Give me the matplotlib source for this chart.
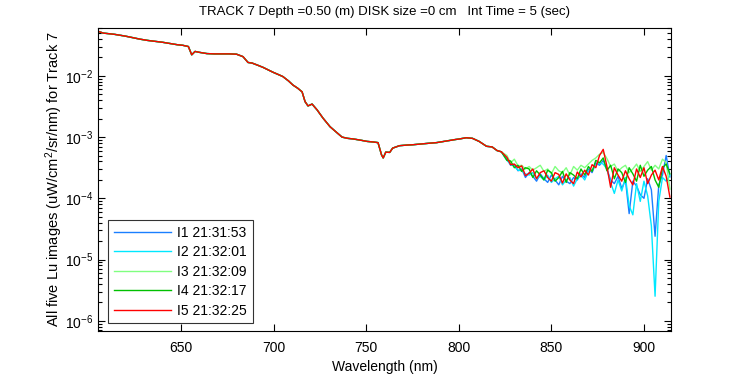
import numpy as np
import matplotlib
matplotlib.use("Agg")
import matplotlib.pyplot as plt
from matplotlib.ticker import LogLocator, NullFormatter, FixedLocator

plt.rcParams['font.family'] = ['Liberation Sans', 'DejaVu Sans']
plt.rcParams['mathtext.fontset'] = 'custom'
plt.rcParams['mathtext.rm'] = 'Liberation Sans'
plt.rcParams['mathtext.it'] = 'Liberation Sans'
plt.rcParams['axes.unicode_minus'] = False

# ---- data (log10 of Lu, uW/cm^2/sr/nm) ----
wl_smooth = [605.2, 608, 611, 614, 617, 620, 624, 628, 632, 636, 640, 644, 648, 651, 654,
             655.8, 657.6, 660, 664, 668, 672, 676, 680, 683.5, 686.2, 688.4, 691, 694.3,
             697, 699.7, 702, 705, 708, 710.5, 713, 715.4, 717, 718.6, 720.8, 723.5, 726.7,
             730.5, 734.3, 737, 740, 743, 747, 750.5, 754, 756.4, 758.3, 759.2, 760.6, 762.7,
             764.3, 768, 772, 775, 780.4, 784, 788, 792, 795, 798, 800.4, 804, 807.4, 811,
             815, 818, 820.7, 823]
log_lu_smooth = [-1.27, -1.30, -1.31, -1.32, -1.335, -1.35, -1.375, -1.40, -1.42, -1.435, -1.45,
                 -1.47, -1.49, -1.50, -1.52, -1.655, -1.60, -1.615, -1.635, -1.64, -1.64, -1.64,
                 -1.645, -1.685, -1.78, -1.79, -1.82, -1.86, -1.90, -1.94, -1.97, -2.01, -2.08,
                 -2.15, -2.20, -2.26, -2.42, -2.49, -2.46, -2.555, -2.69, -2.83, -2.93, -3.00,
                 -3.02, -3.03, -3.05, -3.07, -3.08, -3.09, -3.29, -3.34, -3.245, -3.25, -3.18,
                 -3.14, -3.13, -3.125, -3.11, -3.10, -3.09, -3.07, -3.055, -3.04, -3.03, -3.01,
                 -3.02, -3.07, -3.15, -3.16, -3.22, -3.24]

wl_noisy = [826, 828, 830, 832, 834, 836, 838, 840, 842, 844, 846, 848, 850, 852, 854, 856,
            858, 860, 862, 864, 866, 868, 870, 872, 874, 876, 878, 880, 882, 884, 886, 888,
            890, 892, 894, 896, 898, 900, 902, 904, 906, 908, 910, 912, 914]

log_lu_i1 = [-3.36, -3.46, -3.45, -3.55, -3.52, -3.66, -3.58, -3.64, -3.72, -3.60,
             -3.68, -3.74, -3.62, -3.70, -3.78, -3.64, -3.72, -3.76, -3.66, -3.70,
             -3.60, -3.66, -3.52, -3.58, -3.42, -3.46, -3.38, -3.52, -3.70, -3.76,
             -3.64, -3.84, -3.70, -4.25, -3.72, -3.80, -3.94, -4.00, -3.68, -3.86,
             -4.62, -3.78, -3.62, -3.30, -3.65]
log_lu_i2 = [-3.38, -3.44, -3.48, -3.54, -3.55, -3.60, -3.62, -3.58, -3.68, -3.64,
             -3.70, -3.62, -3.74, -3.68, -3.64, -3.78, -3.70, -3.66, -3.80, -3.68,
             -3.62, -3.70, -3.56, -3.54, -3.46, -3.42, -3.44, -3.52, -3.74, -3.92,
             -3.70, -3.88, -3.66, -4.12, -4.27, -3.76, -4.05, -3.72, -3.96, -4.45,
             -5.60, -4.05, -3.66, -3.72, -3.62]
log_lu_i3 = [-3.30, -3.42, -3.36, -3.47, -3.46, -3.52, -3.48, -3.54, -3.50, -3.46,
             -3.56, -3.52, -3.60, -3.48, -3.55, -3.58, -3.50, -3.62, -3.48, -3.54,
             -3.46, -3.50, -3.44, -3.38, -3.34, -3.28, -3.25, -3.35, -3.48, -3.44,
             -3.56, -3.50, -3.46, -3.58, -3.52, -3.44, -3.56, -3.48, -3.40, -3.54,
             -3.46, -3.52, -3.36, -3.42, -3.85]
log_lu_i4 = [-3.38, -3.39, -3.50, -3.46, -3.56, -3.50, -3.52, -3.66, -3.55, -3.62,
             -3.70, -3.54, -3.58, -3.72, -3.66, -3.56, -3.74, -3.58, -3.62, -3.68,
             -3.52, -3.62, -3.48, -3.56, -3.38, -3.42, -3.34, -3.55, -3.46, -3.68,
             -3.52, -3.58, -3.74, -3.50, -3.60, -3.72, -3.46, -3.64, -3.54, -3.48,
             -3.70, -3.82, -3.50, -3.44, -3.60]
log_lu_i5 = [-3.33, -3.45, -3.44, -3.50, -3.47, -3.63, -3.59, -3.52, -3.68, -3.58,
             -3.55, -3.66, -3.72, -3.58, -3.61, -3.75, -3.60, -3.70, -3.76, -3.57,
             -3.65, -3.54, -3.62, -3.45, -3.50, -3.30, -3.20, -3.48, -3.82, -3.50,
             -3.62, -3.72, -3.55, -3.68, -3.78, -3.52, -3.66, -3.50, -3.76, -3.62,
             -3.54, -3.70, -3.48, -3.64, -3.98]

labels = ['I1 21:31:53', 'I2 21:32:01', 'I3 21:32:09', 'I4 21:32:17', 'I5 21:32:25']
colors = ['#1a7fff', '#00e8ff', '#80ff80', '#00c000', '#ff0000']
x_ticks = [650, 700, 750, 800, 850, 900]

# ---- figure ----
fig = plt.figure(figsize=(7.5, 3.75), dpi=100)
ax = fig.add_axes([98 / 750, 1 - 331 / 375, (671 - 98) / 750, (331 - 28) / 375])

wl = np.array(wl_smooth + wl_noisy)
for series, lab, col in zip([log_lu_i1, log_lu_i2, log_lu_i3, log_lu_i4, log_lu_i5], labels, colors):
    vals = 10.0 ** np.array(log_lu_smooth + series)
    ax.plot(wl, vals, color=col, lw=1.0, label=lab)

ax.set_yscale('log')
ax.set_xlim(605.2, 914.6)
ax.set_ylim(10 ** -6.168, 10 ** -1.217)
ax.xaxis.set_major_locator(FixedLocator(x_ticks))
ax.yaxis.set_major_locator(LogLocator(base=10, numticks=20))
ax.yaxis.set_minor_locator(LogLocator(base=10, subs=np.arange(2, 10), numticks=20))
ax.yaxis.set_minor_formatter(NullFormatter())

ax.tick_params(which='both', direction='in', top=True, right=True, labelsize=10, width=0.8)
ax.tick_params(which='major', length=5)
ax.tick_params(which='minor', length=3)
ax.tick_params(axis='x', pad=7)
for s in ax.spines.values():
    s.set_linewidth(0.8)

ax.set_xlabel('Wavelength (nm)', fontsize=10, labelpad=4)
ax.set_ylabel('All five Lu images (uW/cm$^{2}$/sr/nm) for Track 7', fontsize=10.5, labelpad=0)
ax.set_title('TRACK 7 Depth =0.50 (m) DISK size =0 cm   Int Time = 5 (sec)', fontsize=9.5, pad=9)

leg = ax.legend(loc='lower left', bbox_to_anchor=(0.0175, 0.026), borderaxespad=0,
                fontsize=10, frameon=True, fancybox=False, handlelength=4.1,
                handletextpad=0.5, labelspacing=0.39, borderpad=0.4)
leg.get_frame().set_edgecolor('black')
leg.get_frame().set_linewidth(0.8)
for line in leg.get_lines():
    line.set_linewidth(1.0)

fig.savefig('out.png', dpi=100)
